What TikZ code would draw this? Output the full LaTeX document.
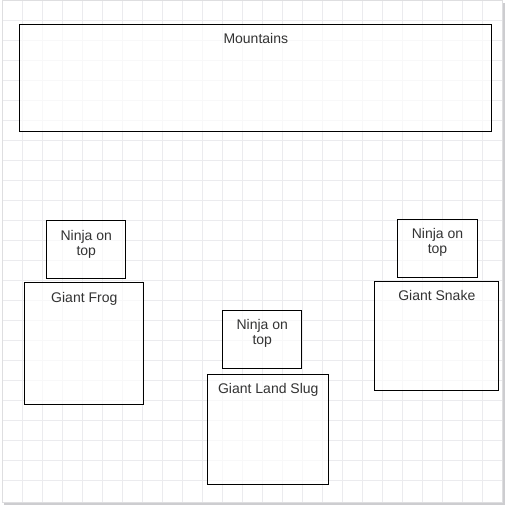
\documentclass[tikz,border=0pt]{standalone}
\usepackage{fontspec}
\setmainfont{Liberation Sans}
\usetikzlibrary{calc}
\definecolor{gridc}{RGB}{235,235,238}
\definecolor{pagec}{RGB}{222,222,224}
\definecolor{shadc}{RGB}{205,205,208}
\definecolor{txtc}{RGB}{51,51,51}
\tikzset{
  box/.style={draw=black, line width=0.75pt, fill=white, fill opacity=0.65, text opacity=1, inner sep=0pt, anchor=north west},
  lbl/.style={text=txtc, font=\fontsize{10.5pt}{11.25pt}\selectfont, inner sep=0pt, align=center, anchor=base},
}
\begin{document}
\begin{tikzpicture}[x=0.75pt, y=-0.75pt]
\useasboundingbox (0,0) rectangle (507,504);
\fill[white] (0,0) rectangle (507,504);
% page shadow and border
\draw[shadc, line width=1.5pt] (503.5,3) -- (503.5,503.5) -- (4,503.5);
\draw[pagec, line width=0.75pt] (2.7,0.7) rectangle (502.2,502.2);
% grid
\foreach \gx in {22.7,42.7,...,490} {\draw[gridc, line width=0.75pt] (\gx,1.2) -- (\gx,501.7);}
\foreach \gy in {20.7,40.7,...,490} {\draw[gridc, line width=0.75pt] (3.2,\gy) -- (501.7,\gy);}
% boxes
\node[box, minimum width=472*0.75pt, minimum height=106.7*0.75pt] (mtn) at (19.3,24) {};
\node[box, minimum width=79*0.75pt, minimum height=57.4*0.75pt] (ninja1) at (46.3,220.3) {};
\node[box, minimum width=119*0.75pt, minimum height=121.7*0.75pt] (frog) at (24.3,282) {};
\node[box, minimum width=79*0.75pt, minimum height=58*0.75pt] (ninja2) at (222.3,310) {};
\node[box, minimum width=121*0.75pt, minimum height=110*0.75pt] (slug) at (207.3,373.7) {};
\node[box, minimum width=79.4*0.75pt, minimum height=58.3*0.75pt] (ninja3) at (397.3,219) {};
\node[box, minimum width=124*0.75pt, minimum height=109.6*0.75pt] (snake) at (374.3,280.7) {};
% labels
\node[lbl] (tmtn) at ($(mtn.north)+(0,19)$) {Mountains};
\node[lbl] (tninja1) at ($(ninja1.north)+(0,34.7)$) {Ninja on\\top};
\node[lbl] (tfrog) at ($(frog.north)+(0,20)$) {Giant Frog};
\node[lbl] (tninja2) at ($(ninja2.north)+(0,34.5)$) {Ninja on\\top};
\node[lbl] (tslug) at ($(slug.north)+(0,19.5)$) {Giant Land Slug};
\node[lbl] (tninja3) at ($(ninja3.north)+(0,34.7)$) {Ninja on\\top};
\node[lbl] (tsnake) at ($(snake.north)+(0,19.5)$) {Giant Snake};
\end{tikzpicture}
\end{document}
